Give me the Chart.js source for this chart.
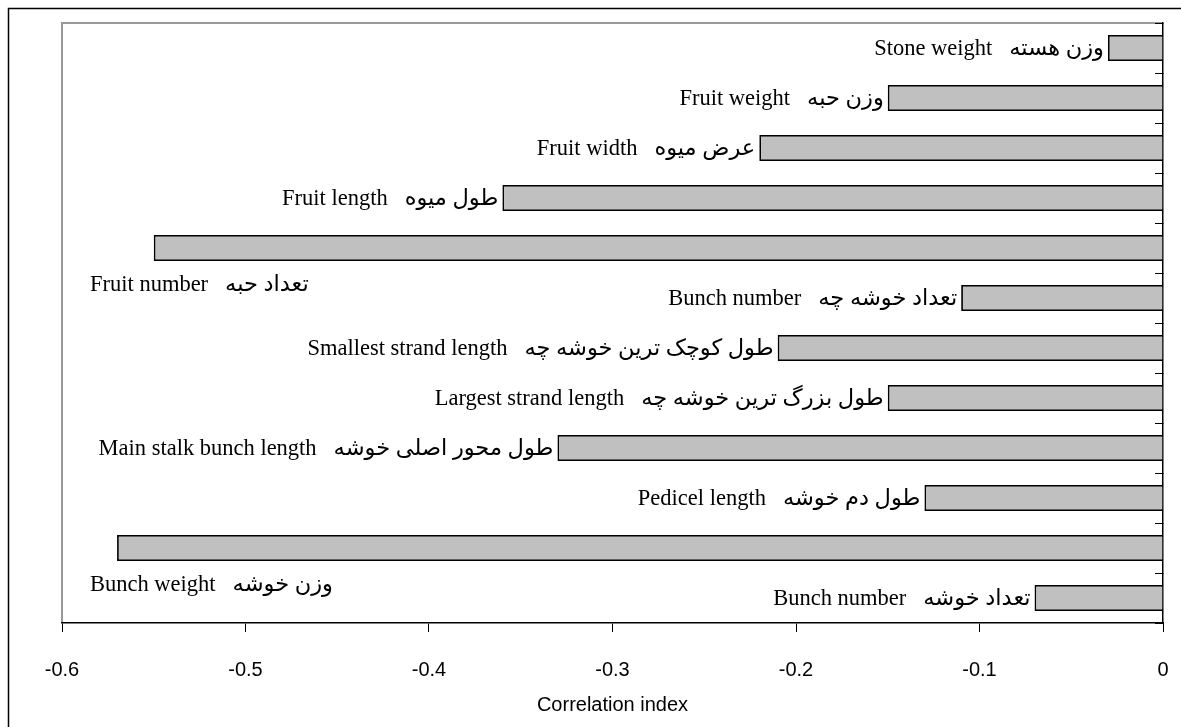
<!DOCTYPE html>
<html>
<head>
<meta charset="utf-8">
<script src="https://cdn.jsdelivr.net/npm/chart.js@4"></script>
<style>
  html, body { margin: 0; padding: 0; background: #fff; }
</style>
</head>
<body>
<canvas id="corr" width="1181" height="727"></canvas>
<script>
// traits, top to bottom
const englishNames = ["Stone weight", "Fruit weight", "Fruit width", "Fruit length", "Fruit number",
  "Bunch number", "Smallest strand length", "Largest strand length", "Main stalk bunch length",
  "Pedicel length", "Bunch weight", "Bunch number"];
const persianNames = ["وزن هسته", "وزن حبه", "عرض میوه", "طول میوه", "تعداد حبه",
  "تعداد خوشه چه", "طول کوچک ترین خوشه چه", "طول بزرگ ترین خوشه چه", "طول محور اصلی خوشه",
  "طول دم خوشه", "وزن خوشه", "تعداد خوشه"];
const corrValues = [-0.03, -0.15, -0.22, -0.36, -0.55, -0.11, -0.21, -0.15, -0.33, -0.13, -0.57, -0.07];
const xTicks = [-0.6, -0.5, -0.4, -0.3, -0.2, -0.1, 0];

const labelFont = "22.5px 'Liberation Serif', 'Times New Roman', 'DejaVu Sans', serif";

// frame lines + mixed english/persian labels next to the bars
const decor = {
  id: "decor",
  beforeDraw(chart) {
    const c = chart.ctx, a = chart.chartArea;
    c.save();
    c.strokeStyle = "#000";
    c.lineWidth = 1.5;
    c.beginPath();
    c.moveTo(8.5, chart.height + 5);
    c.lineTo(8.5, 8.5);
    c.lineTo(chart.width + 5, 8.5);
    c.stroke();
    c.strokeStyle = "#999";
    c.lineWidth = 2;
    c.beginPath();
    c.moveTo(a.left, a.bottom);
    c.lineTo(a.left, a.top);
    c.lineTo(a.right, a.top);
    c.stroke();
    c.restore();
  },
  afterDatasetsDraw(chart) {
    const c = chart.ctx, a = chart.chartArea;
    const bars = chart.getDatasetMeta(0).data;
    c.save();
    c.font = labelFont;
    c.fillStyle = "#000";
    c.textBaseline = "middle";
    bars.forEach((bar, i) => {
      const en = englishNames[i], fa = persianNames[i];
      const gap = 17;
      if (corrValues[i] < -0.5) {
        // long bars: label sits under the bar on the left
        const y = bar.y + 37;
        const x0 = a.left + 28;
        c.textAlign = "left";
        c.fillText(en, x0, y);
        const w = c.measureText(en).width;
        c.fillText(fa, x0 + w + gap, y);
      } else {
        const y = bar.y + 1;
        const xr = bar.x - 4;
        c.textAlign = "right";
        c.fillText(fa, xr, y);
        const w = c.measureText(fa).width;
        c.fillText(en, xr - w - gap, y);
      }
    });
    c.restore();
  }
};

new Chart(document.getElementById("corr"), {
  type: "bar",
  data: {
    labels: englishNames,
    datasets: [{
      data: corrValues,
      backgroundColor: "#c0c0c0",
      borderColor: "#000",
      borderWidth: 1.8,
      categoryPercentage: 1,
      barPercentage: 0.52
    }]
  },
  plugins: [decor],
  options: {
    indexAxis: "y",
    responsive: false,
    animation: false,
    devicePixelRatio: 1,
    layout: { padding: { left: 62, right: 18, top: 23, bottom: 10 } },
    plugins: {
      legend: { display: false },
      tooltip: { enabled: false }
    },
    scales: {
      x: {
        type: "linear",
        min: -0.6,
        max: 0,
        afterBuildTicks(scale) {
          scale.ticks = xTicks.map(v => ({ value: v }));
        },
        afterFit(scale) {
          scale.height = 94;
          scale.paddingLeft = 0;
          scale.paddingRight = 0;
        },
        ticks: {
          color: "#000",
          padding: 26,
          maxRotation: 0,
          font: { family: "'Liberation Sans', Arial, sans-serif", size: 20 },
          callback: v => String(Number(v.toFixed(1)))
        },
        grid: { drawOnChartArea: false, color: "#000", tickLength: 9, lineWidth: 1 },
        border: { color: "#000", width: 1.5 },
        title: {
          display: true,
          text: "Correlation index",
          color: "#000",
          padding: { top: 12, bottom: 0 },
          font: { family: "'Liberation Sans', Arial, sans-serif", size: 20 }
        }
      },
      y: {
        position: "right",
        afterFit(scale) {
          scale.width = 0;
        },
        ticks: { display: false },
        grid: { drawOnChartArea: false, color: "#000", tickLength: -8, offset: true },
        border: { color: "#000", width: 1.5 }
      }
    }
  }
});
</script>
</body>
</html>
